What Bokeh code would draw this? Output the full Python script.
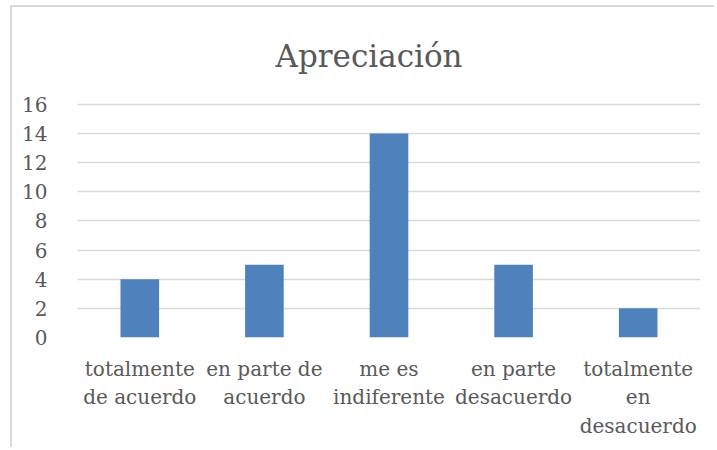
from bokeh.plotting import figure
from bokeh.models import FixedTicker, Range1d
from bokeh.embed import file_html
from bokeh.resources import INLINE

title_text = "Apreciación"
categories = ["totalmente\nde acuerdo", "en parte de\nacuerdo", "me es\nindiferente",
              "en parte\ndesacuerdo", "totalmente\nen\ndesacuerdo"]
values = [4, 5, 14, 5, 2]
y_ticks = [0, 2, 4, 6, 8, 10, 12, 14, 16]

FONT = "DejaVu Serif"
TXT = "#595959"

p = figure(x_range=categories, width=704, height=442, output_backend="svg",
           toolbar_location=None, min_border_left=65, min_border_right=16,
           min_border_top=94, min_border_bottom=112,
           title=title_text,
           styles={"margin-left": "10px", "margin-top": "5px",
                   "border-left": "2px solid #D9D9D9", "border-top": "2px solid #D9D9D9"})
p.y_range = Range1d(0, 16.13)
p.vbar(x=categories, top=values, width=0.31, color="#4F81BD", line_color=None)

p.title.align = "left"
p.title.offset = 198
p.title.standoff = 57
p.title.text_font = FONT
p.title.text_font_size = "31px"
p.title.text_font_style = "normal"
p.title.text_color = TXT

p.outline_line_color = None
p.xgrid.grid_line_color = None
p.ygrid.grid_line_color = "#D9D9D9"
p.ygrid.grid_line_width = 1.5
p.yaxis.ticker = FixedTicker(ticks=y_ticks)
for ax in (p.xaxis[0], p.yaxis[0]):
    ax.axis_line_color = None
    ax.major_tick_line_color = None
    ax.minor_tick_line_color = None
    ax.major_label_text_font = FONT
    ax.major_label_text_color = TXT
p.yaxis.major_label_text_font_size = "20px"
p.yaxis.major_label_standoff = 24
p.xaxis.major_label_text_font_size = "20px"
p.xaxis.major_label_text_line_height = 1.2
p.xaxis.major_label_standoff = 13

open("out.html", "w").write(file_html(p, INLINE))
